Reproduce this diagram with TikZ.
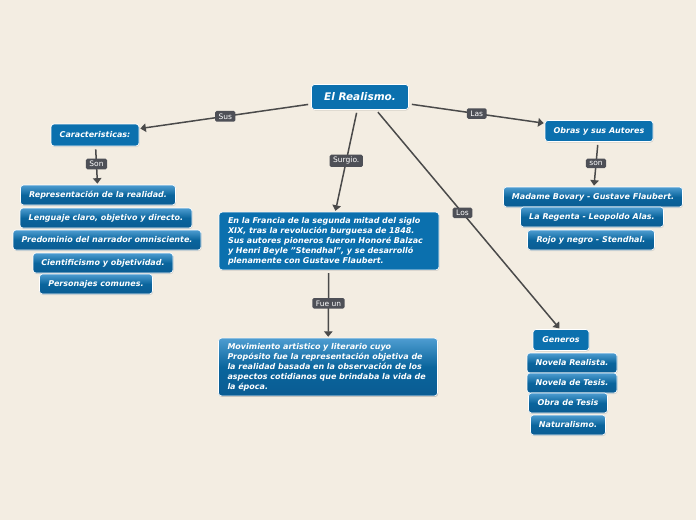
\documentclass[tikz,border=0pt]{standalone}
\usepackage{fontspec}
\setmainfont{DejaVu Sans}
\usetikzlibrary{arrows.meta, shadows}

\definecolor{paper}{HTML}{F3EDE2}
\definecolor{topicblue}{HTML}{0B70AE}
\definecolor{itemtop}{HTML}{4E9DD1}
\definecolor{itembot}{HTML}{0A5C93}
\definecolor{linkgray}{HTML}{4A4A4A}
\definecolor{labelgray}{HTML}{4E5057}

\begin{document}
\begin{tikzpicture}[
    x=1pt, y=-1pt,
    topic/.style={rectangle, rounded corners=3pt, draw=white, line width=0.7pt,
        fill=topicblue, text=white, font=\fontsize{8}{10}\selectfont\bfseries\itshape,
        inner xsep=5pt, minimum height=21pt, align=center,
        drop shadow={opacity=0.25, shadow xshift=0.6pt, shadow yshift=-1pt}},
    item/.style={topic, top color=itemtop, bottom color=itembot, middle color=topicblue!90!black,
        minimum height=20pt},
    textbox/.style={topic, align=left, inner xsep=9pt, inner ysep=5pt},
    linklabel/.style={rectangle, rounded corners=1.5pt, fill=labelgray, text=white,
        font=\fontsize{7.5}{8}\selectfont, inner xsep=3.5pt, inner ysep=2.5pt},
    link/.style={draw=linkgray, line width=1.5pt, shorten <=3pt, shorten >=1pt,
        -{Triangle[width=8.5pt,length=5.5pt]}}
]

% Background
\fill[paper] (0,0) rectangle (696,520);

% Root node
\node[topic, minimum width=97pt, minimum height=25pt, font=\fontsize{10.5}{12}\selectfont\bfseries\itshape]
    (root) at (360,97) {El Realismo.};

% Main topics
\node[topic, minimum width=88pt, minimum height=22pt] (carac) at (95,135) {Caracteristicas:};
\node[topic, minimum width=108pt] (obras) at (599,131) {Obras y sus Autores};
\node[textbox, text width=202pt] (francia) at (329,241)
    {En la Francia de la segunda mitad del siglo\\
     XIX, tras la revolución burguesa de 1848.\\
     Sus autores pioneros fueron Honoré Balzac\\
     y Henri Beyle {\char34}Stendhal{\char34}, y se desarrolló\\
     plenamente con Gustave Flaubert.};
\node[topic, minimum width=56pt] (generos) at (561,340) {Generos};

% Caracteristicas list
\node[item, minimum width=155pt] (repres) at (98,195) {Representación de la realidad.};
\node[item, minimum width=172pt] (lenguaje) at (106,218) {Lenguaje claro, objetivo y directo.};
\node[item, minimum width=188pt] (narrador) at (107,240) {Predominio del narrador omnisciente.};
\node[item, minimum width=140pt] (cientif) at (103,263) {Cientificismo y objetividad.};
\node[item, minimum width=113pt] (personajes) at (96,284) {Personajes comunes.};

% Obras list
\node[item, minimum width=179pt] (bovary) at (593,197) {Madame Bovary - Gustave Flaubert.};
\node[item, minimum width=143pt] (regenta) at (592,217) {La Regenta - Leopoldo Alas.};
\node[item, minimum width=127pt] (rojo) at (591,240) {Rojo y negro - Stendhal.};

% Movimiento
\node[item, textbox, text width=201pt, top color=itemtop, bottom color=itembot,
    middle color=topicblue!90!black] (movim) at (328,367)
    {Movimiento artistico y literario cuyo\\
     Propósito fue la representación objetiva de\\
     la realidad basada en la observación de los\\
     aspectos cotidianos que brindaba la vida de\\
     la época.};

% Generos list
\node[item, minimum width=90pt] (realista) at (572,363) {Novela Realista.};
\node[item, minimum width=90pt] (tesis) at (572,383) {Novela de Tesis.};
\node[item, minimum width=79pt] (obra) at (568,403) {Obra de Tesis};
\node[item, minimum width=75pt] (natur) at (568,425) {Naturalismo.};

% Edges and annotations
\draw[link] (root) -- node[linklabel, pos=0.5] {Sus} (carac);
\draw[link] (root) -- node[linklabel, pos=0.5] {Surgio.} (francia);
\draw[link] (root) -- node[linklabel, pos=0.5] {Las} (obras);
\draw[link] ([xshift=16pt]root.south) -- node[linklabel, pos=0.47] {Los} ([xshift=-1pt]generos.north);
\draw[link] (carac) -- node[linklabel, pos=0.46] {Son} (repres);
\draw[link] (obras) -- node[linklabel, pos=0.48] {son} (bovary);
\draw[link] (francia) -- node[linklabel, pos=0.49] {Fue un} (movim);

\end{tikzpicture}
\end{document}
